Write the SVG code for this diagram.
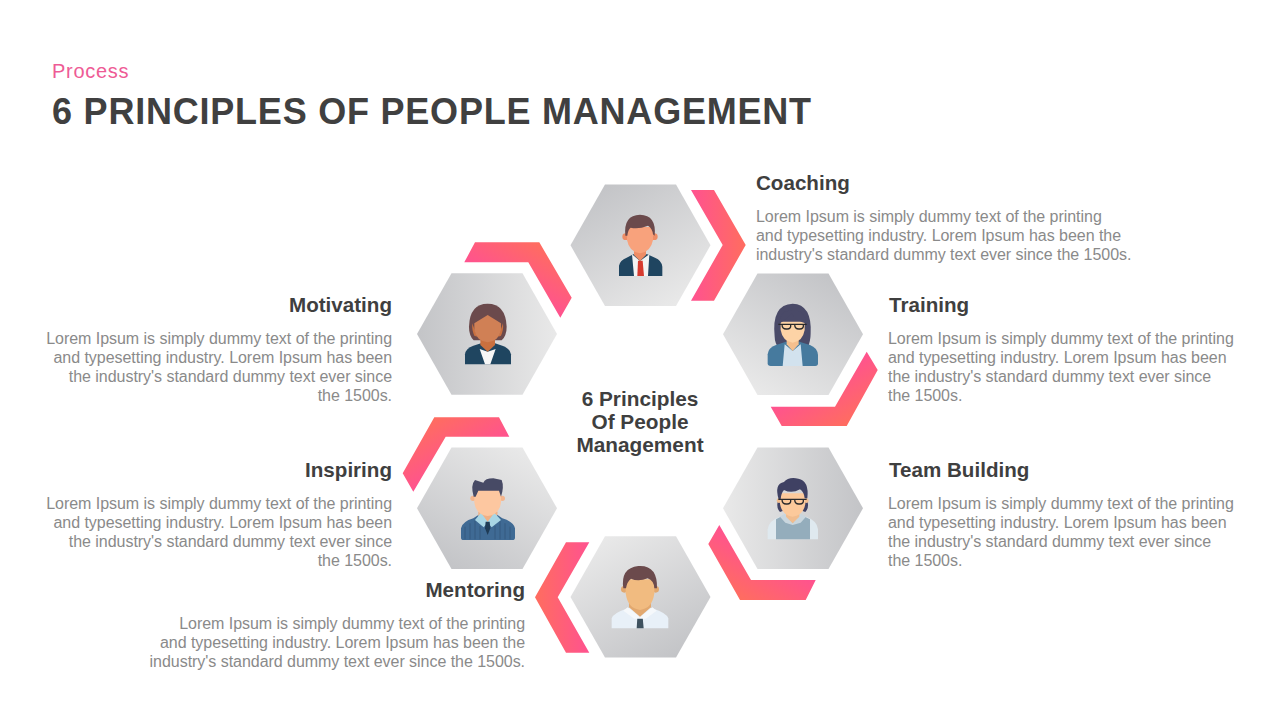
<svg xmlns="http://www.w3.org/2000/svg" width="1280" height="720" viewBox="0 0 1280 720">
<style>
text{font-family:"Liberation Sans",Arial,sans-serif}
.h{font-size:20.6px;font-weight:700;fill:#3f3f3f}
.b{font-size:16px;fill:#8a8a8a;letter-spacing:-.04px}
.r{text-anchor:end}
.c{font-size:20.8px;font-weight:700;fill:#3f3f3f;text-anchor:middle}
</style>
<defs>
<polygon id="hex" points="-70,0 -35.5,-60.7 35.5,-60.7 70,0 35.5,60.7 -35.5,60.7"/>
<linearGradient id="hs"><stop offset="0" stop-color="#c3c4c7"/><stop offset="1" stop-color="#e9e9e9"/></linearGradient>
<linearGradient id="h0" href="#hs" gradientUnits="userSpaceOnUse" x1="-70" y1="0" x2="70" y2="0"/>
<linearGradient id="h60" href="#hs" gradientUnits="userSpaceOnUse" x1="-35" y1="-60.6" x2="35" y2="60.6"/>
<linearGradient id="h120" href="#hs" gradientUnits="userSpaceOnUse" x1="35" y1="-60.6" x2="-35" y2="60.6"/>
<linearGradient id="h180" href="#hs" gradientUnits="userSpaceOnUse" x1="70" y1="0" x2="-70" y2="0"/>
<linearGradient id="h240" href="#hs" gradientUnits="userSpaceOnUse" x1="35" y1="60.6" x2="-35" y2="-60.6"/>
<linearGradient id="h300" href="#hs" gradientUnits="userSpaceOnUse" x1="-35" y1="60.6" x2="35" y2="-60.6"/>
<linearGradient id="cs"><stop offset="0" stop-color="#ff5290"/><stop offset="1" stop-color="#ff6d5f"/></linearGradient>
<linearGradient id="c1" href="#cs" gradientUnits="userSpaceOnUse" x1="691" y1="245" x2="745.7" y2="245"/>
<linearGradient id="c2" href="#cs" gradientUnits="userSpaceOnUse" x1="819.3" y1="378.6" x2="846.7" y2="426"/>
<linearGradient id="c3" href="#cs" gradientUnits="userSpaceOnUse" x1="767.3" y1="552.6" x2="740" y2="600"/>
<linearGradient id="c4" href="#cs" gradientUnits="userSpaceOnUse" x1="589.7" y1="597.3" x2="535" y2="597.3"/>
<linearGradient id="c5" href="#cs" gradientUnits="userSpaceOnUse" x1="461.6" y1="464.7" x2="434.3" y2="417.3"/>
<linearGradient id="c6" href="#cs" gradientUnits="userSpaceOnUse" x1="512" y1="289.7" x2="539.3" y2="242.3"/>
</defs>
<rect width="1280" height="720" fill="#fff"/>
<text x="52" y="78" font-size="20" letter-spacing=".7" fill="#ee5b95">Process</text>
<text x="52" y="124" font-size="36" font-weight="700" letter-spacing=".78" fill="#404040">6 PRINCIPLES OF PEOPLE MANAGEMENT</text>

<g id="connectors">
<polygon fill="url(#c1)" points="691,190 714,190 745.7,245 714,300.7 691,300.7 722.7,245"/>
<polygon fill="url(#c2)" points="866.7,351.7 877.7,370 846.7,426 781.7,426 770.7,406.7 835,406.7"/>
<polygon fill="url(#c3)" points="719.3,525 708.3,544 740,600 805.7,600 815.7,580 751,580"/>
<polygon fill="url(#c4)" points="566,542.3 589.3,542.3 557.7,597.3 589.3,652.7 566,652.7 535,597.3"/>
<polygon fill="url(#c5)" points="434.3,417.3 499,417.3 509.3,436.7 445.7,436.7 413.3,491.7 402.7,473.3"/>
<polygon fill="url(#c6)" points="475,242.3 539.3,242.3 571.7,297.7 560.3,317.7 528.3,262.3 464.3,262.3"/>
</g>

<g id="node-coaching">
<use href="#hex" transform="translate(640.5,245.3)" fill="url(#h60)"/>
<g transform="translate(610,205) scale(.3333)">
<path d="M27,213V182Q30,166 50,158L70,148H112L135,158Q155,166 157,185V213Z" fill="#1f4560"/>
<path d="M66,148L90,168L118,148L114,213H72Z" fill="#f3f3f3"/>
<path d="M84,167H98L102,213H82Z" fill="#d63b2f"/>
<path d="M72,120H108V150L90,168L72,150Z" fill="#ee8d66"/>
<circle cx="47" cy="95" r="10" fill="#ee8d66"/><circle cx="133" cy="95" r="10" fill="#ee8d66"/>
<path d="M51,66H129V105Q122,142 90,145Q58,142 51,105Z" fill="#f8a27c"/>
<path d="M46,92Q40,30 90,29Q140,30 134,92L129,88Q127,70 114,62Q85,74 62,68Q54,74 52,92Z" fill="#6b4a4c"/>
</g>
</g>

<g id="node-training">
<use href="#hex" transform="translate(793,334.2)" fill="url(#h120)"/>
<g transform="translate(760,295) scale(.3333)">
<path d="M44,125Q34,28 98,26Q156,28 152,115Q152,140 142,160H56Q44,142 44,125Z" fill="#4a4a68"/>
<path d="M23,205V178Q25,158 48,150L78,140H118L150,150Q172,158 174,180V205Q174,213 166,213H32Q23,213 23,205Z" fill="#467a9e"/>
<path d="M74,148L98,168L122,148L128,213H68Z" fill="#d2e2ee"/>
<path d="M80,125H116V148L98,168L80,148Z" fill="#f5bf8e"/>
<path d="M62,80H134V105Q128,140 98,143Q68,140 62,105Z" fill="#fdd3a6"/>
<path d="M60,85Q78,75 95,55Q110,78 136,85V70Q125,45 98,45Q70,45 60,70Z" fill="#4a4a68"/>
<path d="M55,88H140M66,88H92Q94,103 80,102Q66,103 66,88ZM104,88H130Q132,103 118,102Q104,103 104,88Z" fill="none" stroke="#2a2a2c" stroke-width="4"/>
</g>
</g>

<g id="node-team-building">
<use href="#hex" transform="translate(793,508.3)" fill="url(#h180)"/>
<g transform="translate(760,470) scale(.3333)">
<path d="M23,208V178Q25,152 60,140H138Q172,152 174,178V208Z" fill="#dfe9ef"/>
<path d="M48,208V148L72,135H124L150,148V208Z" fill="#94adbc"/>
<path d="M60,140L76,130L98,160L120,130L138,140L122,158L98,165L76,158Z" fill="#c9d6de"/>
<path d="M78,120H118V140L98,160L78,140Z" fill="#f1bd8f"/>
<path d="M56,85Q46,112 60,126L70,122L66,90ZM140,85Q150,112 136,126L126,122L130,90Z" fill="#3f4163"/>
<circle cx="57" cy="92" r="7" fill="#f1bd8f"/><circle cx="139" cy="92" r="7" fill="#f1bd8f"/>
<path d="M60,70H136V102Q130,137 98,140Q66,137 60,102Z" fill="#fcc99b"/>
<path d="M56,88Q42,42 72,36Q85,20 115,26Q148,32 142,85L134,85Q132,65 120,58Q95,72 72,60Q63,70 62,88Z" fill="#3f4163"/>
<path d="M55,88H140M66,88H92Q94,103 80,102Q66,103 66,88ZM104,88H130Q132,103 118,102Q104,103 104,88Z" fill="none" stroke="#2a2a2c" stroke-width="4"/>
</g>
</g>

<g id="node-mentoring">
<use href="#hex" transform="translate(640.5,596.9)" fill="url(#h240)"/>
<g transform="translate(605,560) scale(.3333)">
<path d="M20,205V175Q25,160 60,148L82,140H128L150,148Q185,160 190,175V205Z" fill="#e8f0f8"/>
<path d="M97,172H113L116,205H95Z" fill="#3f5260"/>
<path d="M68,142L105,172L142,142L155,152L122,176H88L55,152Z" fill="#f5f8fb"/>
<path d="M72,115H138V142L105,170L72,142Z" fill="#e2a86f"/>
<circle cx="58" cy="88" r="10" fill="#e2a86f"/><circle cx="152" cy="88" r="10" fill="#e2a86f"/>
<path d="M62,58H148V100Q142,146 105,150Q68,146 62,100Z" fill="#f1bb80"/>
<path d="M55,85Q46,24 100,18Q158,14 156,85L148,85Q147,62 128,55Q100,66 78,56Q66,65 63,85Z" fill="#6b4a4c"/>
</g>
</g>

<g id="node-inspiring">
<use href="#hex" transform="translate(487,508.3)" fill="url(#h300)"/>
<g transform="translate(455,470) scale(.3333)">
<path d="M18,203V175Q22,155 55,145L78,130H120L142,145Q176,155 180,175V203Q180,210 172,210H26Q18,210 18,203Z" fill="#3f6a94"/>
<path d="M30,170V208M45,160V208M60,152V208M75,168V208M120,168V208M135,152V208M150,160V208M165,170V208" stroke="#355a80" stroke-width="3"/>
<path d="M70,140L98,165L126,140L128,125L70,125Z" fill="#f0b085"/>
<path d="M60,150L78,128L98,155L118,128L138,150L110,172L98,158L86,172Z" fill="#a9d6e5"/>
<path d="M92,155H104L106,175L98,195L90,175Z" fill="#1f3b55"/>
<circle cx="54" cy="85" r="8" fill="#f4b58d"/><circle cx="142" cy="85" r="8" fill="#f4b58d"/>
<path d="M58,60H138V98Q132,135 98,138Q64,135 58,98Z" fill="#fdc7a0"/>
<path d="M56,80Q46,45 60,30L85,38Q90,25 115,25L140,30Q148,50 138,80L132,62H70L62,80Z" fill="#474a65"/>
</g>
</g>

<g id="node-motivating">
<use href="#hex" transform="translate(487,334)" fill="url(#h0)"/>
<g transform="translate(455,295) scale(.3333)">
<path d="M42,95Q44,26 98,26Q152,26 155,95Q155,122 140,136H56Q42,122 42,95Z" fill="#6b4a4c"/>
<path d="M30,208V178Q32,160 55,152L78,145H120L142,152Q165,160 168,178V208Z" fill="#1f4560"/>
<path d="M74,162L98,170L122,162L106,208H90Z" fill="#f7f7f7"/>
<path d="M76,125H120V150L98,170L76,150Z" fill="#c9703f"/>
<path d="M52,85L66,125L58,122Q50,105 52,85ZM144,85L130,125L138,122Q146,105 144,85Z" fill="#c9703f"/>
<path d="M58,85L98,60L138,85V105Q132,138 98,142Q64,138 58,105Z" fill="#d08055"/>
</g>
</g>

<g id="labels">
<text class="h" x="756" y="190">Coaching</text>
<text class="b" x="756" y="222">Lorem Ipsum is simply dummy text of the printing</text>
<text class="b" x="756" y="241">and typesetting industry. Lorem Ipsum has been the</text>
<text class="b" x="756" y="260">industry's standard dummy text ever since the 1500s.</text>

<text class="h" x="889" y="312">Training</text>
<text class="b" x="888" y="344">Lorem Ipsum is simply dummy text of the printing</text>
<text class="b" x="888" y="363">and typesetting industry. Lorem Ipsum has been</text>
<text class="b" x="888" y="382">the industry's standard dummy text ever since</text>
<text class="b" x="888" y="401">the 1500s.</text>

<text class="h" x="889" y="477">Team Building</text>
<text class="b" x="888" y="509">Lorem Ipsum is simply dummy text of the printing</text>
<text class="b" x="888" y="528">and typesetting industry. Lorem Ipsum has been</text>
<text class="b" x="888" y="547">the industry's standard dummy text ever since</text>
<text class="b" x="888" y="566">the 1500s.</text>

<text class="h r" x="392" y="312">Motivating</text>
<text class="b r" x="392" y="344">Lorem Ipsum is simply dummy text of the printing</text>
<text class="b r" x="392" y="363">and typesetting industry. Lorem Ipsum has been</text>
<text class="b r" x="392" y="382">the industry's standard dummy text ever since</text>
<text class="b r" x="392" y="401">the 1500s.</text>

<text class="h r" x="392" y="477">Inspiring</text>
<text class="b r" x="392" y="509">Lorem Ipsum is simply dummy text of the printing</text>
<text class="b r" x="392" y="528">and typesetting industry. Lorem Ipsum has been</text>
<text class="b r" x="392" y="547">the industry's standard dummy text ever since</text>
<text class="b r" x="392" y="566">the 1500s.</text>

<text class="h r" x="525" y="597">Mentoring</text>
<text class="b r" x="525" y="629">Lorem Ipsum is simply dummy text of the printing</text>
<text class="b r" x="525" y="648">and typesetting industry. Lorem Ipsum has been the</text>
<text class="b r" x="525" y="667">industry's standard dummy text ever since the 1500s.</text>

<text class="c" x="640" y="406">6 Principles</text>
<text class="c" x="640" y="429">Of People</text>
<text class="c" x="640" y="452">Management</text>
</g>
</svg>
